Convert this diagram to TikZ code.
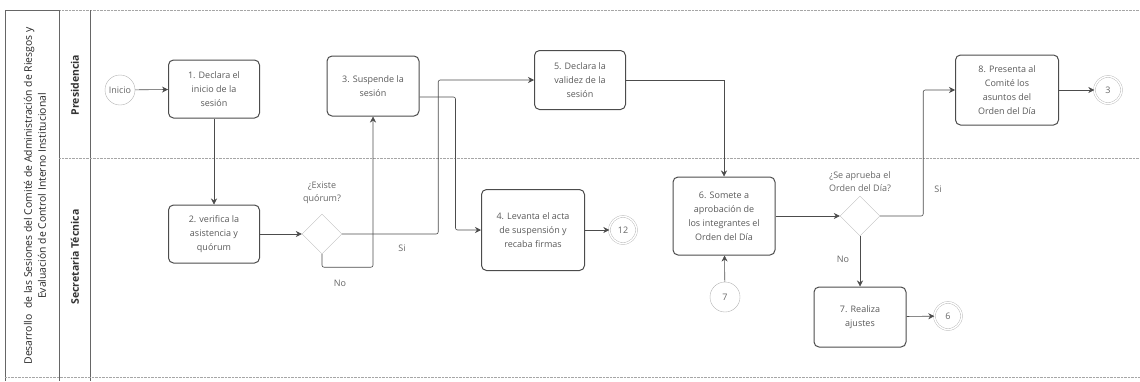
\documentclass[tikz,border=0pt]{standalone}
\usepackage{fontspec}
\setmainfont{Open Sans}
\usepackage{tikz}
\usetikzlibrary{shapes.geometric,arrows.meta}

\begin{document}
\begin{tikzpicture}[x=1pt,y=-1pt,
		task/.style={draw=black!70,line width=1pt,rounded corners=5pt,minimum width=91pt,minimum height=58pt,align=center,text=black!65,font=\fontsize{9}{14}\selectfont},
		gate/.style={diamond,draw=black!25,minimum width=40pt,minimum height=40pt,inner sep=0pt},
		event/.style={circle,draw=black!30,minimum size=30pt,inner sep=0pt,text=black!60,font=\fontsize{9}{11}\selectfont},
		endevent/.style={event,double=white,double distance=1.5pt,minimum size=27pt},
		flow/.style={draw=black!70,line width=0.6pt,-{Stealth[length=6pt,width=6pt]}},
		lbl/.style={text=black!60,align=center,font=\fontsize{9}{13}\selectfont},
		lane/.style={draw=black!35,densely dotted}]
		\useasboundingbox (0,0) rectangle (1140,381);
		% carriles
		\begin{scope}
		\draw[black!60] (5,381) -- (5,10) -- (59,10);
		\draw[lane] (59,10) -- (1140,10);
		\draw[black!60] (59,10) -- (59,381); \draw[black!60] (90,10) -- (90,381);
		\draw[lane] (59,158) -- (1140,158);
		\draw[lane] (5,377) -- (1140,377);
		\node[rotate=90,align=center,text=black!85,font=\fontsize{10.4}{14}\selectfont] (titulo) at (35,196) {Desarrollo\ \ de las Sesiones del Comité de Administración de Riesgos y\\Evaluación de Control Interno Institucional};
		\node[rotate=90,text=black!80,font=\bfseries\fontsize{10.5}{12}\selectfont] (pres) at (75,85) {Presidencia};
		\node[rotate=90,text=black!80,font=\bfseries\fontsize{10.5}{12}\selectfont] (secr) at (75,257) {Secretaria Técnica};
		\end{scope}
		% actividades
		\node[event] (inicio) at (120,90) {Inicio};
		\node[task] (b1) at (214,89) {1. Declara el\\inicio de la\\sesión};
		\node[task] (b2) at (214,234) {2. verifica la\\asistencia y\\quórum};
		\node[gate] (d1) at (322,234) {};
		\node[lbl] (q1) at (322,193) {¿Existe\\quórum?};
		\node[task,minimum height=60pt,minimum width=92pt] (b3) at (373,86) {3. Suspende la\\sesión};
		\node[task,minimum height=81pt,minimum width=103pt] (b4) at (533,230) {4. Levanta el acta\\de suspensión y\\recaba firmas};
		\node[endevent] (e12) at (623,230) {12};
		\node[task,minimum height=59pt] (b5) at (580,80) {5. Declara la\\validez de la\\sesión};
		\node[task,minimum height=78pt,minimum width=102pt] (b6) at (724,216) {6. Somete a\\aprobación de\\los integrantes el\\Orden del Día};
		\node[event] (c7) at (725,297) {7};
		\node[gate] (d2) at (860,216) {};
		\node[lbl] (q2) at (860,182) {¿Se aprueba el\\Orden del Día?};
		\node[task,minimum height=70pt,minimum width=103pt] (b8) at (1007,90) {8. Presenta al\\Comité los\\asuntos del\\Orden del Día};
		\node[endevent] (e3) at (1108,90) {3};
		\node[task,minimum height=60pt,minimum width=92pt] (b7) at (860,317) {7. Realiza\\ajustes};
		\node[endevent] (e6) at (948,316) {6};
		% flujos
		\draw[flow] (inicio) -- (b1);
		\draw[flow] (b1) -- (b2);
		\draw[flow] (b2) -- (d1);
		\draw[flow,rounded corners=2pt] (d1.south) -- ++(0,13) -| (b3.south);
		\draw[flow,rounded corners=2pt] (d1.east) -- ++(96,0) |- (b5.west);
		\draw[flow,rounded corners=2pt] ([yshift=-11pt]b3.east) -- ++(36,0) |- (b4.west);
		\draw[flow] (b4) -- (e12);
		\draw[flow] (b5.east) -| (b6.north);
		\draw[flow] (c7) -- (b6);
		\draw[flow] (b6) -- (d2);
		\draw[flow,rounded corners=2pt] (d2.east) -- ++(43,0) |- (b8.west);
		\draw[flow] (b8) -- (e3);
		\draw[flow] (d2.south) -- (b7.north);
		\draw[flow] (b7) -- (e6);
		\node[lbl] (no1) at (340,283) {No};
		\node[lbl] (si1) at (402,248) {Si};
		\node[lbl] (si2) at (938,189) {Si};
		\node[lbl] (no2) at (843,259) {No};
		\end{tikzpicture}
\end{document}
